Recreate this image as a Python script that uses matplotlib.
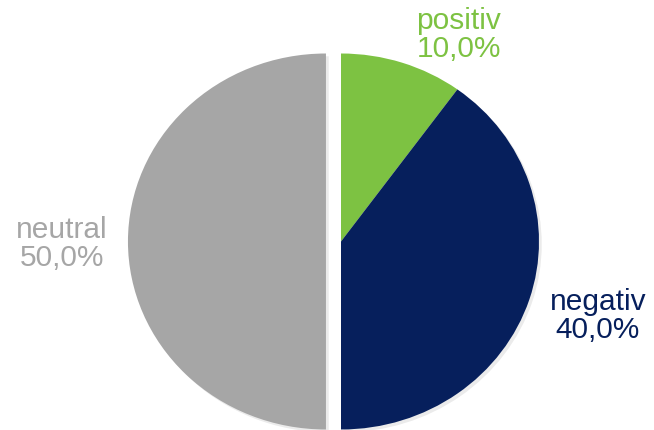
import matplotlib.pyplot as plt
import matplotlib.patheffects as pe

labels = ['positiv', 'negativ', 'neutral']
shares = [10.0, 40.0, 50.0]
colors = ['#7DC242', '#061F5C', '#A6A6A6']

# where the labels sit (figure fractions)
label_pos = [(459 / 654, 1 - 35 / 430), (598 / 654, 1 - 316 / 430), (62 / 654, 1 - 244 / 430)]

plt.rcParams['font.family'] = ['Liberation Sans', 'DejaVu Sans']

fig = plt.figure(figsize=(6.54, 4.30), dpi=100)
ax = fig.add_axes([0, 0, 1, 1])

# pie runs clockwise from 12 o'clock, neutral slice pulled a little to the left
wedges, _ = ax.pie(shares, colors=colors, startangle=90, counterclock=False,
                   explode=[0, 0, 0.076], radius=1.0,
                   wedgeprops=dict(linewidth=0))
for w in wedges:
    w.set_path_effects([pe.SimplePatchShadow(offset=(2, -2), alpha=0.08, shadow_rgbFace='k'),
                        pe.Normal()])

# slightly wider than tall, like the original
ax.set_aspect('auto')
ax.set_xlim(-341 / 198, (654 - 341) / 198)
ax.set_ylim(-188.5 / 188, (430 - 188.5) / 188)
ax.axis('off')

for lab, val, col, (x, y) in zip(labels, shares, colors, label_pos):
    txt = lab + '\n' + ('%.1f%%' % val).replace('.', ',')
    fig.text(x, y, txt, color=col, fontsize=21.5, ha='center', va='center',
             linespacing=1.0)

fig.savefig('out.png', dpi=100)
